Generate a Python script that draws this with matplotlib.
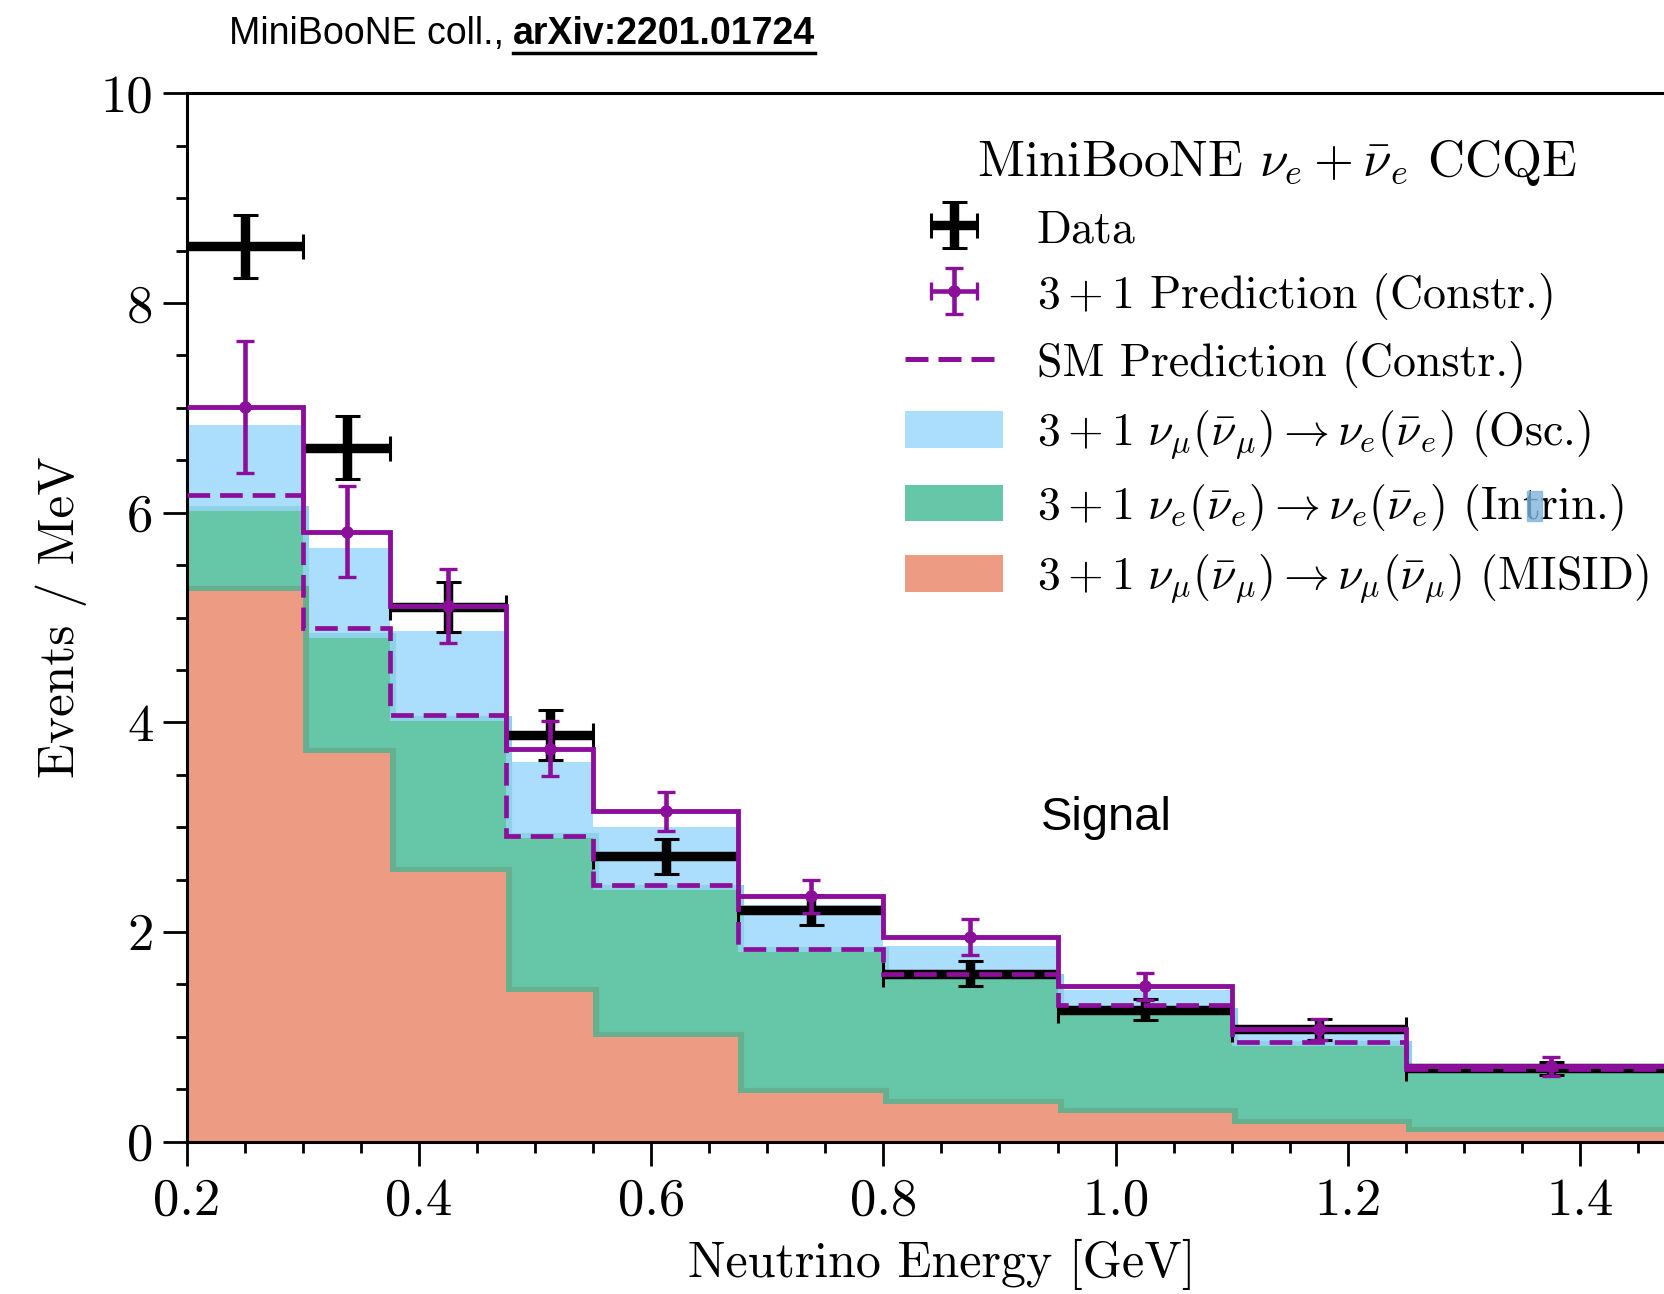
import matplotlib
matplotlib.use('Agg')
import matplotlib.pyplot as plt
import numpy as np
from matplotlib.ticker import MultipleLocator, FormatStrFormatter
from matplotlib.lines import Line2D
from matplotlib.patches import Patch, Rectangle

plt.rcParams['font.family'] = 'cmr10'
plt.rcParams['mathtext.fontset'] = 'cm'
plt.rcParams['axes.formatter.use_mathtext'] = True
plt.rcParams['axes.unicode_minus'] = False

# ---------------- data ----------------
bin_edges = [0.2, 0.3, 0.375, 0.475, 0.55, 0.675, 0.8, 0.95, 1.1, 1.25, 1.5]
data_values = [8.54, 6.62, 5.10, 3.88, 2.72, 2.21, 1.60, 1.26, 1.07, 0.70]
data_errors = [0.30, 0.30, 0.24, 0.24, 0.17, 0.14, 0.12, 0.10, 0.10, 0.06]
pred_3p1 = [7.01, 5.82, 5.11, 3.75, 3.15, 2.34, 1.95, 1.48, 1.07, 0.72]
pred_3p1_err = [0.63, 0.43, 0.35, 0.26, 0.19, 0.16, 0.17, 0.13, 0.10, 0.09]
pred_sm = [6.17, 4.90, 4.07, 2.92, 2.45, 1.84, 1.60, 1.30, 0.95, 0.69]
misid = [5.25, 3.71, 2.57, 1.43, 1.00, 0.46, 0.36, 0.27, 0.17, 0.09]
intrinsic = [0.77, 1.09, 1.44, 1.47, 1.40, 1.35, 1.19, 0.96, 0.74, 0.56]
oscillated = [0.82, 0.86, 0.86, 0.72, 0.60, 0.45, 0.32, 0.22, 0.12, 0.05]

labels = ['Data',
          r'$3+1$ Prediction (Constr.)',
          'SM Prediction (Constr.)',
          r'$3+1\ \nu_\mu(\bar{\nu}_\mu)\rightarrow\nu_e(\bar{\nu}_e)$ (Osc.)',
          r'$3+1\ \nu_e(\bar{\nu}_e)\rightarrow\nu_e(\bar{\nu}_e)$ (Intrin.)',
          r'$3+1\ \nu_\mu(\bar{\nu}_\mu)\rightarrow\nu_\mu(\bar{\nu}_\mu)$ (MISID)']
legend_title = r'MiniBooNE $\nu_e+\bar{\nu}_e$ CCQE'

# ---------------- style ----------------
PURPLE = '#8c0f9b'
BLUE = '#aadefc'
GREEN = '#66c6a8'
ORANGE = '#ed9c83'
DKGREEN = '#67b08f'
CYAN = '#8dd2e6'

edges = np.array(bin_edges)
centers = 0.5 * (edges[1:] + edges[:-1])
halfw = 0.5 * (edges[1:] - edges[:-1])
m = np.array(misid)
g_top = m + np.array(intrinsic)
b_top = g_top + np.array(oscillated)

W, H = 1665, 1294
fig = plt.figure(figsize=(W / 100, H / 100), dpi=100)
ax = fig.add_axes([186.9 / W, 1 - 1141.6 / H, (1696 - 186.9) / W, (1141.6 - 93.4) / H])

# stacked fills
ax.stairs(b_top, edges, baseline=g_top, fill=True, color=BLUE, lw=0, zorder=1.0)
ax.stairs(g_top, edges, baseline=None, fill=False, color=CYAN, lw=8, zorder=1.1)
ax.stairs(g_top, edges, baseline=m, fill=True, color=GREEN, lw=0, zorder=1.2)
ax.stairs(m, edges, baseline=None, fill=False, color=DKGREEN, lw=8, zorder=1.3)
ax.stairs(m, edges, baseline=0, fill=True, color=ORANGE, lw=0, zorder=1.4)

# data
data_eb = ax.errorbar(centers, data_values, xerr=halfw, yerr=data_errors, fmt='o', ms=6,
                      color='k', elinewidth=6.8, capsize=9, capthick=2.2, zorder=3)

# predictions
ax.stairs(pred_3p1, edges, baseline=None, color=PURPLE, lw=3.5, zorder=4)
ax.stairs(pred_sm, edges, baseline=None, color=PURPLE, lw=3.4, ls=(0, (4.8, 2.1)), zorder=4.5)
ax.errorbar(centers, pred_3p1, yerr=pred_3p1_err, fmt='o', ms=8, color=PURPLE,
            elinewidth=3.3, capsize=6.5, capthick=2.4, zorder=5)
pred_leg = ax.errorbar([np.nan], [np.nan], xerr=[1], yerr=[1], fmt='o', ms=8, color=PURPLE,
                       elinewidth=3.3, capsize=6.5, capthick=2.4)

ax.set_xlim(0.2, 1.5)
ax.set_ylim(0, 10)
ax.xaxis.set_major_locator(MultipleLocator(0.2))
ax.xaxis.set_minor_locator(MultipleLocator(0.05))
ax.yaxis.set_major_locator(MultipleLocator(2))
ax.yaxis.set_minor_locator(MultipleLocator(0.5))
ax.xaxis.set_major_formatter(FormatStrFormatter('%.1f'))
ax.yaxis.set_major_formatter(FormatStrFormatter('%d'))
ax.tick_params(which='major', direction='out', length=17, width=2, labelsize=38, pad=7)
ax.tick_params(which='minor', direction='out', length=8, width=2)
ax.tick_params(axis='x', which='major', pad=9)
for s in ax.spines.values():
    s.set_linewidth(2.2)

ax.set_xlabel('Neutrino Energy [GeV]', fontsize=36)
ax.xaxis.set_label_coords(0.5, -0.093)
ax.set_ylabel('Events / MeV', fontsize=37)
ax.yaxis.set_label_coords(-0.066, 0.5)

handles = [data_eb, pred_leg,
           Line2D([], [], color=PURPLE, lw=3.6, ls=(0, (4.6, 2.0))),
           Patch(fc=BLUE, lw=0), Patch(fc=GREEN, lw=0), Patch(fc=ORANGE, lw=0)]
leg = ax.legend(handles, labels, title=legend_title, loc='upper left',
                bbox_to_anchor=(905 / W, 0.894), bbox_transform=fig.transFigure,
                frameon=False, fontsize=33, title_fontsize=37, borderpad=0,
                borderaxespad=0, handletextpad=0.74, handlelength=2.14,
                handleheight=0.85, labelspacing=0.43)

# highlight artifact over "t" of Intrin.
fig.patches.append(Rectangle((1527 / W, 1 - 521 / H), 15 / W, 30 / H,
                             transform=fig.transFigure, color='#7fb4dc', alpha=0.8, zorder=0))

fig.text(0.6643, 0.3679, 'Signal', family='Liberation Sans', fontsize=34,
         ha='center', va='center')

t1 = fig.text(229 / W, 0.974, 'MiniBooNE coll.,', family='Liberation Sans', fontsize=27,
              ha='left', va='center')
fig.canvas.draw()
r = fig.canvas.get_renderer()
bb1 = t1.get_window_extent(r)
t2 = fig.text((bb1.x1 + 9) / W, 0.974, 'arXiv:2201.01724', family='Liberation Sans',
              fontsize=27, fontweight='bold', ha='left', va='center')
fig.canvas.draw()
bb2 = t2.get_window_extent(r)
fig.lines.append(Line2D([bb2.x0 / W, bb2.x1 / W], [(bb2.y0 - 1) / H] * 2,
                        transform=fig.transFigure, color='k', lw=2.5))

fig.savefig('out.png', dpi=100)
